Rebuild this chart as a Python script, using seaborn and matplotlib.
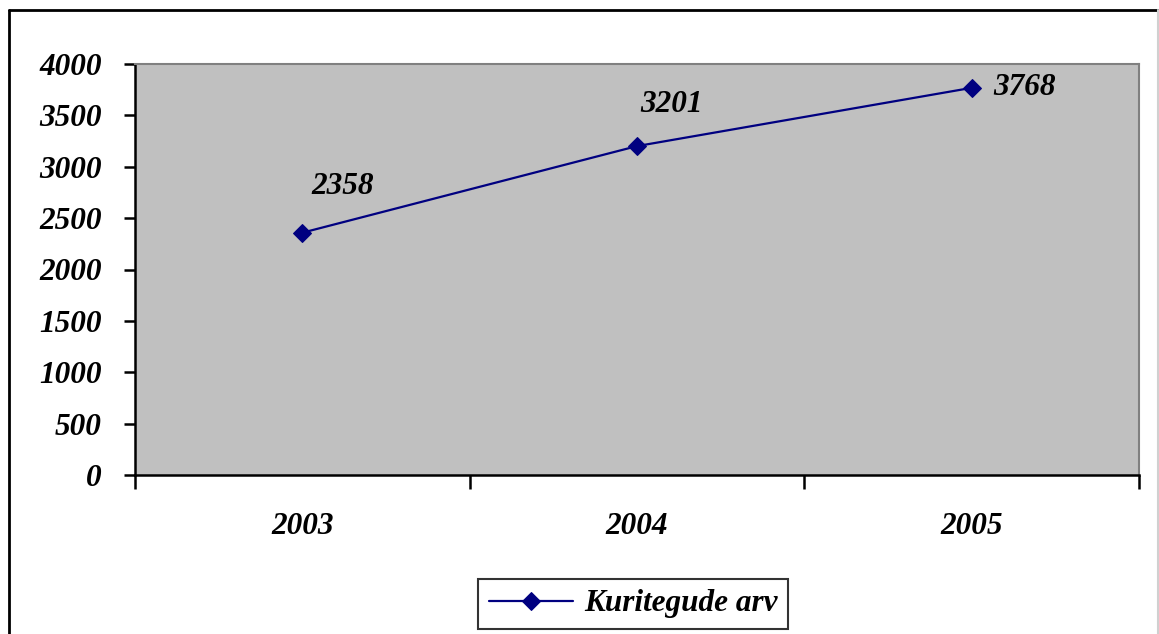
import pandas as pd
import matplotlib.pyplot as plt
import seaborn as sns
from matplotlib.ticker import FixedLocator
from matplotlib.lines import Line2D

years = ["2003", "2004", "2005"]
crimes = [2358, 3201, 3768]
series_name = "Kuritegude arv"
yticks = list(range(0, 4001, 500))

df = pd.DataFrame({"year": years, series_name: crimes})

sns.set_style("white")
plt.rcParams['font.family'] = ['Liberation Serif', 'DejaVu Serif']
plt.rcParams['font.weight'] = 'bold'
plt.rcParams['font.style'] = 'italic'
plt.rcParams['text.color'] = 'black'
plt.rcParams['xtick.color'] = 'black'
plt.rcParams['ytick.color'] = 'black'

FS = 22.5

fig = plt.figure(figsize=(11.59, 6.34), dpi=100)
ax = fig.add_axes([135 / 1159, 1 - 475 / 634, (1139 - 135) / 1159, (475 - 64) / 634])
ax.set_facecolor("#C0C0C0")

sns.lineplot(data=df, x="year", y=series_name, ax=ax, color="#000080", marker="D",
             markersize=9, markeredgecolor="#000080", linewidth=1.6, label=series_name,
             sort=False)

ax.set_xlim(-0.5, 2.5)
ax.set_ylim(0, 4000)
ax.set_yticks(yticks)
ax.set_yticklabels([str(v) for v in yticks], fontsize=FS, fontweight='bold', fontstyle='italic')
ax.set_xticks(range(len(years)))
ax.set_xticklabels(years, fontsize=FS, fontweight='bold', fontstyle='italic')
ax.xaxis.set_minor_locator(FixedLocator([-0.5, 0.5, 1.5, 2.5]))
ax.tick_params(axis='x', which='major', length=0, pad=27, labelcolor='black')
ax.tick_params(axis='x', which='minor', bottom=True, length=10, width=1.8, color='black',
               direction='out')
ax.tick_params(axis='y', length=8, width=1.8, color='black', direction='out', left=True,
               pad=16, labelcolor='black')
ax.set_xlabel("")
ax.set_ylabel("")

for side in ["left", "bottom"]:
    ax.spines[side].set_color("black")
    ax.spines[side].set_linewidth(1.8)
for side in ["top", "right"]:
    ax.spines[side].set_color("#808080")
    ax.spines[side].set_linewidth(1.5)
    ax.spines[side].set_visible(True)

offsets = [(29, 33), (25, 30), (38, 0)]
for i, (v, off) in enumerate(zip(crimes, offsets)):
    ax.annotate(str(v), (i, v), xytext=off, textcoords="offset points", color="black",
                ha="center", va="center", fontsize=FS, fontweight='bold', fontstyle='italic')

leg = ax.legend(loc="center", bbox_to_anchor=(633 / 1159, 1 - 604 / 634),
                bbox_transform=fig.transFigure, frameon=True, fancybox=False,
                prop={'family': 'Liberation Serif', 'size': FS, 'weight': 'bold', 'style': 'italic'},
                handlelength=2.7, borderpad=0.35, handletextpad=0.35)
leg.get_frame().set_edgecolor("black")
leg.get_frame().set_linewidth(1.5)
for t in leg.get_texts():
    t.set_color("black")

# outer chart frame: black on left/top, faint grey on the right
x0, x1, y0 = 9 / 1159, 1157.5 / 1159, 1 - 10 / 634
fig.add_artist(Line2D([x0, x0], [0, y0], transform=fig.transFigure, color="black", linewidth=2))
fig.add_artist(Line2D([x0, x1], [y0, y0], transform=fig.transFigure, color="black", linewidth=2))
fig.add_artist(Line2D([x1, x1], [0, y0], transform=fig.transFigure, color="#D0D0D0", linewidth=1.5))

fig.savefig("out.png", dpi=100)
